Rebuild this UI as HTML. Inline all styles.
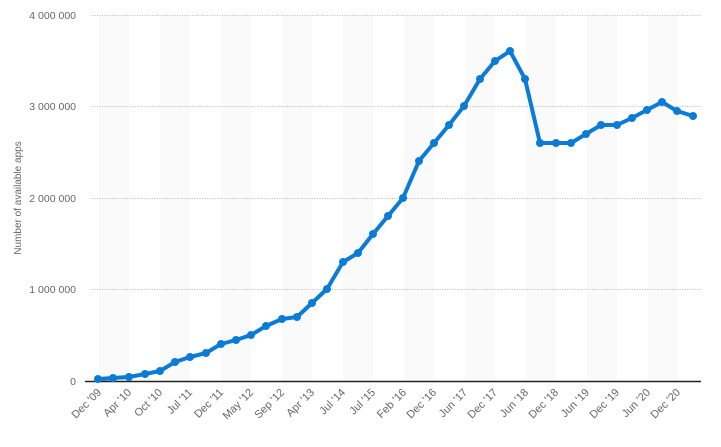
<!DOCTYPE html>
<html><head><meta charset="utf-8"><style>
html,body{margin:0;padding:0;background:#fff;width:721px;height:447px;overflow:hidden}
text{font-family:"Liberation Sans",Arial,sans-serif;fill:#666}
</style></head><body>
<svg width="721" height="447" viewBox="0 0 721 447" xmlns="http://www.w3.org/2000/svg">
<g fill="#fafafa">
<rect x="99" y="15" width="30" height="366"/><rect x="160" y="15" width="30" height="366"/><rect x="221" y="15" width="30" height="366"/><rect x="282" y="15" width="30" height="366"/><rect x="343" y="15" width="30" height="366"/><rect x="404" y="15" width="30" height="366"/><rect x="465" y="15" width="30" height="366"/><rect x="526" y="15" width="30" height="366"/><rect x="587" y="15" width="30" height="366"/><rect x="648" y="15" width="30" height="366"/>
</g>
<g stroke="#bbb" stroke-width="1" stroke-dasharray="1,1.5">
<line x1="92" y1="15.5" x2="701" y2="15.5"/><line x1="92" y1="106.5" x2="701" y2="106.5"/><line x1="92" y1="198.5" x2="701" y2="198.5"/><line x1="92" y1="289.5" x2="701" y2="289.5"/>
</g>
<line x1="85" y1="381.5" x2="701" y2="381.5" stroke="#222" stroke-width="1.5"/>
<g font-size="10.5" text-anchor="end">
<text x="76" y="19">4 000 000</text><text x="76" y="110">3 000 000</text><text x="76" y="202">2 000 000</text><text x="76" y="293">1 000 000</text><text x="76" y="385">0</text>
</g>
<text x="0" y="0" font-size="10" text-anchor="middle" transform="translate(21,198) rotate(-90)">Number of available apps</text>
<g font-size="11" text-anchor="end">
<text transform="translate(102,393) rotate(-45)">Dec '09</text>
<text transform="translate(132,393) rotate(-45)">Apr '10</text>
<text transform="translate(163,393) rotate(-45)">Oct '10</text>
<text transform="translate(193,393) rotate(-45)">Jul '11</text>
<text transform="translate(224,393) rotate(-45)">Dec '11</text>
<text transform="translate(254,393) rotate(-45)">May '12</text>
<text transform="translate(285,393) rotate(-45)">Sep '12</text>
<text transform="translate(315,393) rotate(-45)">Apr '13</text>
<text transform="translate(346,393) rotate(-45)">Jul '14</text>
<text transform="translate(376,393) rotate(-45)">Jul '15</text>
<text transform="translate(407,393) rotate(-45)">Feb '16</text>
<text transform="translate(437,393) rotate(-45)">Dec '16</text>
<text transform="translate(468,393) rotate(-45)">Jun '17</text>
<text transform="translate(498,393) rotate(-45)">Dec '17</text>
<text transform="translate(529,393) rotate(-45)">Jun '18</text>
<text transform="translate(559,393) rotate(-45)">Dec '18</text>
<text transform="translate(590,393) rotate(-45)">Jun '19</text>
<text transform="translate(620,393) rotate(-45)">Dec '19</text>
<text transform="translate(651,393) rotate(-45)">Jun '20</text>
<text transform="translate(681,393) rotate(-45)">Dec '20</text>
</g>
<polyline fill="none" stroke="#0a7bd7" stroke-width="4" stroke-linejoin="round" stroke-linecap="round"
points="98,379 113,378 129,377 145,374 160,371 175,362 190,357 206,353 221,344 236,340 251,335 266,326 282,319 297,317 312,303 327,289 343,262 358,253 373,234 388,216 403,198 419,161 434,143 449,125 464,106 480,79 495,61 510,51 525,79 540,143 556,143 571,143 586,134 601,125 617,125 632,118 647,110 662,102 677,111 693,116"/>
<g fill="#0a7bd7">
<circle cx="98" cy="379" r="4"/><circle cx="113" cy="378" r="4"/><circle cx="129" cy="377" r="4"/><circle cx="145" cy="374" r="4"/><circle cx="160" cy="371" r="4"/><circle cx="175" cy="362" r="4"/><circle cx="190" cy="357" r="4"/><circle cx="206" cy="353" r="4"/><circle cx="221" cy="344" r="4"/><circle cx="236" cy="340" r="4"/><circle cx="251" cy="335" r="4"/><circle cx="266" cy="326" r="4"/><circle cx="282" cy="319" r="4"/><circle cx="297" cy="317" r="4"/><circle cx="312" cy="303" r="4"/><circle cx="327" cy="289" r="4"/><circle cx="343" cy="262" r="4"/><circle cx="358" cy="253" r="4"/><circle cx="373" cy="234" r="4"/><circle cx="388" cy="216" r="4"/><circle cx="403" cy="198" r="4"/><circle cx="419" cy="161" r="4"/><circle cx="434" cy="143" r="4"/><circle cx="449" cy="125" r="4"/><circle cx="464" cy="106" r="4"/><circle cx="480" cy="79" r="4"/><circle cx="495" cy="61" r="4"/><circle cx="510" cy="51" r="4"/><circle cx="525" cy="79" r="4"/><circle cx="540" cy="143" r="4"/><circle cx="556" cy="143" r="4"/><circle cx="571" cy="143" r="4"/><circle cx="586" cy="134" r="4"/><circle cx="601" cy="125" r="4"/><circle cx="617" cy="125" r="4"/><circle cx="632" cy="118" r="4"/><circle cx="647" cy="110" r="4"/><circle cx="662" cy="102" r="4"/><circle cx="677" cy="111" r="4"/><circle cx="693" cy="116" r="4"/>
</g>
</svg>
</body></html>
